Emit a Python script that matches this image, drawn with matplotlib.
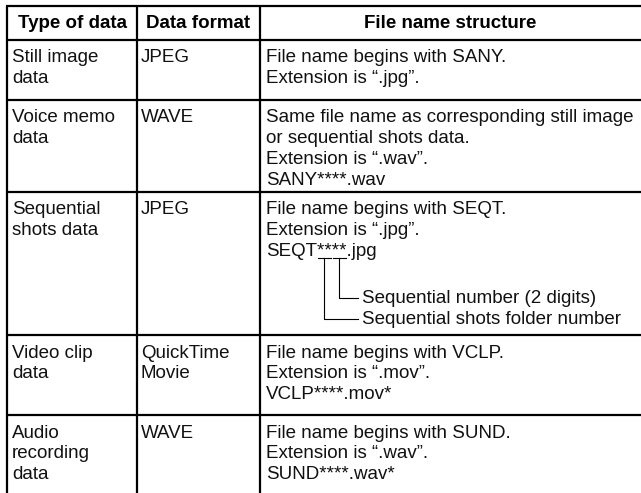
import matplotlib
matplotlib.use('Agg')
import matplotlib.pyplot as plt

plt.rcParams['font.family'] = ['Liberation Sans', 'DejaVu Sans']

# table contents
headers = ['Type of data', 'Data format', 'File name structure']
data_types = [['Still image', 'data'],
              ['Voice memo', 'data'],
              ['Sequential', 'shots data'],
              ['Video clip', 'data'],
              ['Audio', 'recording', 'data']]
data_formats = [['JPEG'], ['WAVE'], ['JPEG'], ['QuickTime', 'Movie'], ['WAVE']]
name_structures = [
    ['File name begins with SANY.', 'Extension is \u201c.jpg\u201d.'],
    ['Same file name as corresponding still image', 'or sequential shots data.',
     'Extension is \u201c.wav\u201d.', 'SANY****.wav'],
    ['File name begins with SEQT.', 'Extension is \u201c.jpg\u201d.', 'SEQT****.jpg'],
    ['File name begins with VCLP.', 'Extension is \u201c.mov\u201d.', 'VCLP****.mov*'],
    ['File name begins with SUND.', 'Extension is \u201c.wav\u201d.', 'SUND****.wav*'],
]
seq_notes = ['Sequential number (2 digits)', 'Sequential shots folder number']

W, H = 641, 493
fig = plt.figure(figsize=(6.41, 4.93), dpi=100)
ax = fig.add_axes([0, 0, 1, 1])
ax.set_xlim(0, W)
ax.set_ylim(H, 0)
ax.axis('off')

fs = 13.5
row_lines = [6, 40, 100, 192, 335, 415]
col_lines = [7, 137, 260]
text_x = [12, 141, 266]
# headers centred in their columns (last column runs to the picture edge)
edges = col_lines + [W]
header_x = [(edges[i] + edges[i + 1]) / 2 for i in range(3)]
first = 18
step = 20.7

# rules
for y in row_lines:
    ax.plot([col_lines[0] - 1, W], [y, y], color='black', lw=1.6, solid_capstyle='butt')
for x in col_lines:
    ax.plot([x, x], [row_lines[0], H], color='black', lw=1.6, solid_capstyle='butt')

for hx, h in zip(header_x, headers):
    ax.text(hx, (row_lines[0] + row_lines[1]) / 2, h, ha='center', va='center',
            fontsize=fs, fontweight='bold', color='black')

seqt_pos = None
for i in range(len(data_types)):
    top = row_lines[i + 1]
    for c, cell in enumerate([data_types[i], data_formats[i], name_structures[i]]):
        for k, line in enumerate(cell):
            y = top + first + k * step
            ax.text(text_x[c], y, line, ha='left', va='center', fontsize=fs, color='#111111')
            if line.startswith('SEQT*'):
                seqt_pos = (text_x[c], y)

# bracket under SEQT****
fig.canvas.draw()
r = fig.canvas.get_renderer()
sx, sy = seqt_pos
widths = {}
for p in ['SEQT', 'SEQT**', 'SEQT****']:
    t = ax.text(sx, sy, p, ha='left', va='center', fontsize=fs)
    widths[p] = t.get_window_extent(r).width
    t.remove()
x0 = sx + widths['SEQT']
x2 = sx + widths['SEQT**']
x4 = sx + widths['SEQT****']
yb = sy + 7
note_y = [sy + 47, sy + 68]
segs = [(x2 + 1, x4 - 1, note_y[0]), (x0 + 1, x2 - 1, note_y[1])]
for a, b, ny in segs:
    ax.plot([a, b], [yb, yb], color='black', lw=0.8)
    mx = (a + b) / 2
    ax.plot([mx, mx, x4 + 11], [yb, ny, ny], color='black', lw=0.8)
for ny, note in zip(note_y, seq_notes):
    ax.text(x4 + 16, ny, note, ha='left', va='center', fontsize=fs, color='#111111')

fig.savefig('out.png', dpi=100)
